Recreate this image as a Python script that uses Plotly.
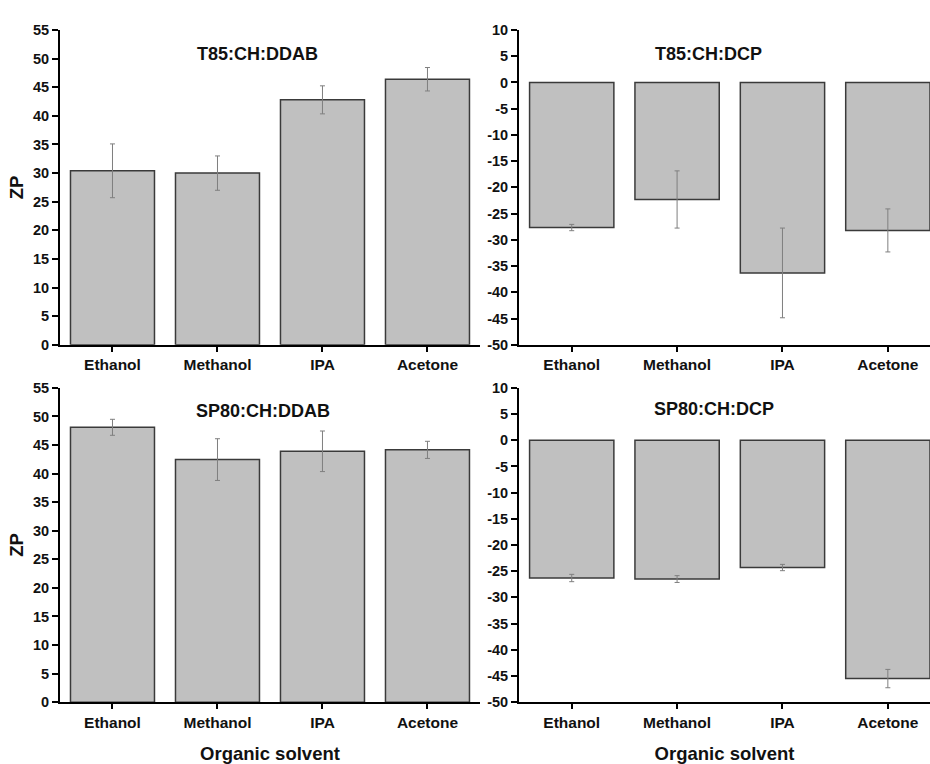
import plotly.graph_objects as go

solvents = ["Ethanol", "Methanol", "IPA", "Acetone"]
xpos = [1, 2, 3, 4]

t85_ddab = [30.4, 30.0, 42.8, 46.4]
t85_ddab_err = [4.7, 3.0, 2.45, 2.05]

t85_dcp = [-27.65, -22.3, -36.3, -28.2]
t85_dcp_err = [0.6, 5.45, 8.55, 4.1]

sp80_ddab = [48.1, 42.45, 43.9, 44.15]
sp80_ddab_err = [1.4, 3.65, 3.55, 1.5]

sp80_dcp = [-26.3, -26.5, -24.3, -45.5]
sp80_dcp_err = [0.7, 0.65, 0.6, 1.75]

ddab_ticks = list(range(0, 56, 5))
dcp_ticks = list(range(-50, 11, 5))

titles = ["T85:CH:DDAB", "T85:CH:DCP", "SP80:CH:DDAB", "SP80:CH:DCP"]

FONT = "Arial, Liberation Sans, sans-serif"

fig = go.Figure()

panels = [
    (t85_ddab, t85_ddab_err, "x", "y"),
    (t85_dcp, t85_dcp_err, "x2", "y2"),
    (sp80_ddab, sp80_ddab_err, "x3", "y3"),
    (sp80_dcp, sp80_dcp_err, "x4", "y4"),
]

for vals, errs, xa, ya in panels:
    fig.add_trace(go.Bar(
        x=xpos, y=vals, width=0.8, xaxis=xa, yaxis=ya,
        marker=dict(color="#c0c0c0", line=dict(color="#3a3a3a", width=1.5)),
        error_y=dict(type="data", array=errs, visible=True,
                     color="#7f7f7f", thickness=1, width=2.5),
        showlegend=False,
    ))

xdom_left = [0.0645, 0.5161]
xdom_right = [0.5581, 1.0]
ydom_top = [1 - 344 / 764, 1 - 22.5 / 764]
ydom_bot = [1 - 709 / 764, 1 - 388 / 764]

xtickfont = dict(family=FONT, size=15.5, color="#111")
ytickfont = dict(family=FONT, size=14.5, color="#111")
titlefont = dict(family=FONT, size=18, color="#111", weight="bold")
axtitlefont = dict(family=FONT, size=18.5, color="#111", weight="bold")

def bold(s):
    return "<b>" + s + "</b>"

def xaxis(domain, anchor, rng, title=None):
    d = dict(domain=domain, anchor=anchor, range=rng,
             tickvals=xpos, ticktext=[bold(s) for s in solvents],
             showline=True, linecolor="black", linewidth=2,
             ticks="outside", ticklen=5, tickwidth=1.5, tickcolor="black",
             showgrid=False, zeroline=False, tickfont=xtickfont, fixedrange=True)
    if title:
        d["title"] = dict(text=title, font=axtitlefont, standoff=18)
    return d

def yaxis(domain, anchor, rng, tv, title=None):
    d = dict(domain=domain, anchor=anchor, range=rng,
             tickvals=tv, ticktext=[bold(str(v)) for v in tv],
             showline=True, linecolor="black", linewidth=2,
             ticks="outside", ticklen=6, tickwidth=1.5, tickcolor="black",
             showgrid=False, zeroline=False, tickfont=ytickfont, fixedrange=True)
    if title:
        d["title"] = dict(text=title, font=axtitlefont, standoff=4)
    return d

fig.update_layout(
    width=930, height=764,
    margin=dict(l=0, r=0, t=0, b=0),
    paper_bgcolor="white", plot_bgcolor="white",
    bargap=0.2,
    xaxis=xaxis(xdom_left, "y", [0.5, 4.5]),
    yaxis=yaxis(ydom_top, "x", [0, 55], ddab_ticks, "ZP"),
    xaxis2=xaxis(xdom_right, "y2", [0.5, 4.4]),
    yaxis2=yaxis(ydom_top, "x2", [-50, 10], dcp_ticks),
    xaxis3=xaxis(xdom_left, "y3", [0.5, 4.5], "Organic solvent"),
    yaxis3=yaxis(ydom_bot, "x3", [0, 55], ddab_ticks, "ZP"),
    xaxis4=xaxis(xdom_right, "y4", [0.5, 4.4], "Organic solvent"),
    yaxis4=yaxis(ydom_bot, "x4", [-50, 10], dcp_ticks),
)

# title centres in pixels: (257,47), (708,47), (263,412), (714,410)
title_pos = [(257, 47), (708, 47), (263, 412), (714, 410)]
for t, (px, py) in zip(titles, title_pos):
    fig.add_annotation(text=t, x=px / 930, y=1 - py / 764, xref="paper", yref="paper",
                       showarrow=False, font=titlefont,
                       xanchor="center", yanchor="middle")

fig.write_html("out.html")
